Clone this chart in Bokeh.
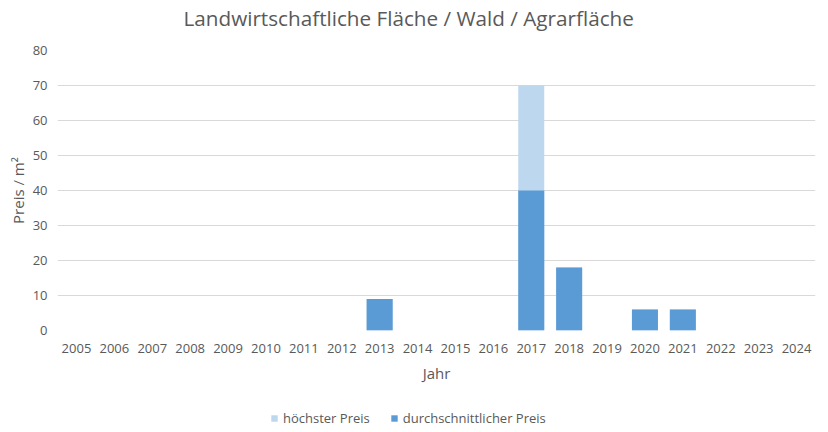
from bokeh.plotting import figure
from bokeh.layouts import column
from bokeh.models import ColumnDataSource, Legend, LegendItem, Range1d, Label
from bokeh.embed import file_html
from bokeh.resources import INLINE

title_text = "Landwirtschaftliche Fläche / Wald / Agrarfläche"
years = [str(y) for y in range(2005, 2025)]
hoechster = [0, 0, 0, 0, 0, 0, 0, 0, 9, 0, 0, 0, 70, 18, 0, 6, 6, 0, 0, 0]
durchschnitt = [0, 0, 0, 0, 0, 0, 0, 0, 9, 0, 0, 0, 40, 18, 0, 6, 6, 0, 0, 0]
series_names = ["höchster Preis", "durchschnittlicher Preis"]
series_colors = ["#bdd7ee", "#5b9bd5"]

FONT = "Open Sans"
GRAY = "#595959"

# title strip
ts = figure(width=828, height=34, x_range=Range1d(0, 758), y_range=Range1d(0, 34),
            output_backend="svg", toolbar_location=None,
            x_axis_location=None, y_axis_location=None,
            min_border_left=57, min_border_right=13, min_border_top=0, min_border_bottom=0)
ts.grid.visible = False
ts.outline_line_color = None
ts.add_layout(Label(x=126, y=17, text=title_text, text_font=FONT, text_font_size="20.7px",
                    text_color=GRAY, text_align="left", text_baseline="middle"))

src = ColumnDataSource(dict(x=years, h=hoechster, d=durchschnitt))

p = figure(width=828, height=368, x_range=years, y_range=Range1d(0, 80),
           output_backend="svg", toolbar_location=None,
           min_border_left=57, min_border_right=13, min_border_top=16, min_border_bottom=72)

p.vbar(x="x", top="h", width=0.686, source=src, color=series_colors[0], line_color=None)
p.vbar(x="x", top="d", width=0.686, source=src, color=series_colors[1], line_color=None)

p.outline_line_color = None
p.xgrid.grid_line_color = None
p.ygrid.grid_line_color = "#d9d9d9"
p.yaxis.ticker = list(range(0, 81, 10))

for ax in (p.xaxis[0], p.yaxis[0]):
    ax.axis_line_color = None
    ax.major_tick_line_color = None
    ax.minor_tick_line_color = None
    ax.major_tick_out = 0
    ax.major_tick_in = 0
    ax.minor_tick_out = 0
    ax.major_label_text_font = FONT
    ax.major_label_text_font_size = "13px"
    ax.major_label_text_color = GRAY
    ax.axis_label_text_font = FONT
    ax.axis_label_text_font_size = "15px"
    ax.axis_label_text_font_style = "normal"
    ax.axis_label_text_color = GRAY

p.xaxis.axis_label = "Jahr"
p.yaxis.axis_label = "Preis / m²"
p.yaxis.major_label_standoff = 10
p.xaxis.major_label_standoff = 13
p.xaxis.axis_label_standoff = 7
p.yaxis.axis_label_standoff = 2

# legend strip
lg = figure(width=828, height=30, x_range=Range1d(0, 1), y_range=Range1d(0, 1),
            output_backend="svg", toolbar_location=None,
            min_border_left=0, min_border_right=0, min_border_top=0, min_border_bottom=0)
lg.axis.visible = False
lg.grid.visible = False
lg.outline_line_color = None
items = []
for name, col in zip(series_names, series_colors):
    r = lg.vbar(x=[-5], top=[-5], width=0.5, color=col, line_color=None)
    items.append(LegendItem(label=name, renderers=[r]))
legend = Legend(items=items, orientation="horizontal", location=(213, 5),
                label_text_font=FONT, label_text_font_size="13px", label_text_color=GRAY,
                glyph_width=8, glyph_height=8, spacing=20, border_line_color=None,
                background_fill_alpha=0, margin=0, padding=2)
lg.add_layout(legend, "center")

layout = column(ts, p, lg, spacing=0)
open("out.html", "w").write(file_html(layout, INLINE))
